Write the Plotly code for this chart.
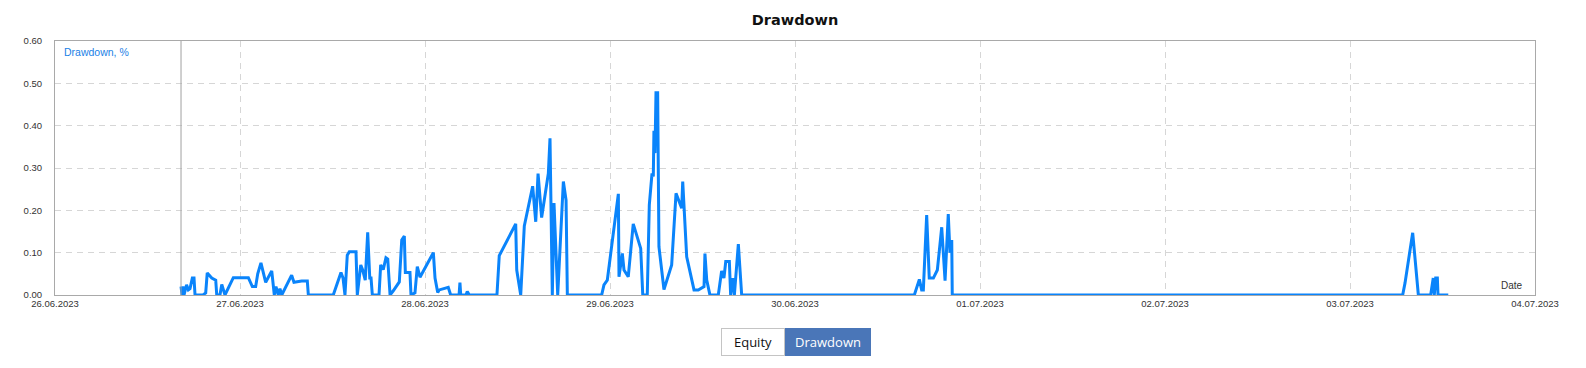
import pandas as pd
import plotly.graph_objects as go

# Drawdown series (timestamp, drawdown %)
dates = [
    "2023-06-26 16:21", "2023-06-26 16:29", "2023-06-26 16:36", "2023-06-26 16:44",
    "2023-06-26 17:04", "2023-06-26 17:18", "2023-06-26 17:31", "2023-06-26 17:49",
    "2023-06-26 18:02", "2023-06-26 18:10", "2023-06-26 19:12", "2023-06-26 19:33",
    "2023-06-26 19:45", "2023-06-26 20:20", "2023-06-26 20:51", "2023-06-26 20:59",
    "2023-06-26 21:24", "2023-06-26 21:38", "2023-06-26 22:03", "2023-06-26 23:08",
    "2023-06-27 01:05", "2023-06-27 01:36", "2023-06-27 02:02", "2023-06-27 02:18",
    "2023-06-27 02:43", "2023-06-27 03:20", "2023-06-27 04:07", "2023-06-27 04:27",
    "2023-06-27 04:40", "2023-06-27 04:58", "2023-06-27 05:11", "2023-06-27 05:25",
    "2023-06-27 06:42", "2023-06-27 07:00", "2023-06-27 08:00", "2023-06-27 08:44",
    "2023-06-27 08:52", "2023-06-27 12:06", "2023-06-27 13:06", "2023-06-27 13:22",
    "2023-06-27 13:37", "2023-06-27 13:55", "2023-06-27 14:11", "2023-06-27 15:03",
    "2023-06-27 15:13", "2023-06-27 15:40", "2023-06-27 15:55", "2023-06-27 16:15",
    "2023-06-27 16:34", "2023-06-27 16:50", "2023-06-27 17:00", "2023-06-27 17:10",
    "2023-06-27 18:02", "2023-06-27 18:15", "2023-06-27 18:35", "2023-06-27 18:56",
    "2023-06-27 19:10", "2023-06-27 19:28", "2023-06-27 19:53", "2023-06-27 20:40",
    "2023-06-27 20:59", "2023-06-27 21:19", "2023-06-27 21:27", "2023-06-27 22:03",
    "2023-06-27 22:11", "2023-06-27 22:42", "2023-06-27 23:00", "2023-06-27 23:21",
    "2023-06-28 01:05", "2023-06-28 01:18", "2023-06-28 01:39", "2023-06-28 01:51",
    "2023-06-28 03:01", "2023-06-28 03:20", "2023-06-28 04:25", "2023-06-28 04:32",
    "2023-06-28 04:38", "2023-06-28 05:19", "2023-06-28 05:29", "2023-06-28 05:45",
    "2023-06-28 09:20", "2023-06-28 09:38", "2023-06-28 11:46", "2023-06-28 11:54",
    "2023-06-28 12:25", "2023-06-28 12:53", "2023-06-28 13:58", "2023-06-28 14:22",
    "2023-06-28 14:40", "2023-06-28 15:08", "2023-06-28 16:00", "2023-06-28 16:13",
    "2023-06-28 16:31", "2023-06-28 16:44", "2023-06-28 17:13", "2023-06-28 17:57",
    "2023-06-28 18:18", "2023-06-28 18:28", "2023-06-28 22:55", "2023-06-28 23:13",
    "2023-06-28 23:39", "2023-06-29 01:05", "2023-06-29 01:10", "2023-06-29 01:36",
    "2023-06-29 01:49", "2023-06-29 02:22", "2023-06-29 03:01", "2023-06-29 03:59",
    "2023-06-29 04:15", "2023-06-29 04:50", "2023-06-29 05:06", "2023-06-29 05:27",
    "2023-06-29 05:37", "2023-06-29 05:42", "2023-06-29 05:50", "2023-06-29 05:58",
    "2023-06-29 06:11", "2023-06-29 06:16", "2023-06-29 06:21", "2023-06-29 07:00",
    "2023-06-29 08:00", "2023-06-29 08:34", "2023-06-29 09:18", "2023-06-29 09:26",
    "2023-06-29 09:57", "2023-06-29 10:54", "2023-06-29 11:27", "2023-06-29 12:12",
    "2023-06-29 12:19", "2023-06-29 12:33", "2023-06-29 12:58", "2023-06-29 14:03",
    "2023-06-29 14:29", "2023-06-29 14:47", "2023-06-29 15:01", "2023-06-29 15:29",
    "2023-06-29 15:39", "2023-06-29 15:55", "2023-06-29 16:08", "2023-06-29 16:39",
    "2023-06-29 17:05", "2023-06-30 15:29", "2023-06-30 16:08", "2023-06-30 16:26",
    "2023-06-30 16:39", "2023-06-30 17:05", "2023-06-30 17:25", "2023-06-30 17:57",
    "2023-06-30 18:28", "2023-06-30 19:02", "2023-06-30 19:14", "2023-06-30 19:28",
    "2023-06-30 19:53", "2023-06-30 20:06", "2023-06-30 20:20", "2023-06-30 20:24",
    "2023-07-03 06:50", "2023-07-03 07:08", "2023-07-03 08:08", "2023-07-03 08:52",
    "2023-07-03 10:28", "2023-07-03 10:36", "2023-07-03 10:48", "2023-07-03 10:56",
    "2023-07-03 11:07", "2023-07-03 11:20", "2023-07-03 11:25", "2023-07-03 12:45",
]

drawdown = [
    0.020, 0.000, 0.020, 0.000,
    0.024, 0.012, 0.015, 0.040,
    0.040, 0.000, 0.000, 0.005,
    0.052, 0.040, 0.035, 0.000,
    0.000, 0.025, 0.000, 0.041,
    0.041, 0.020, 0.020, 0.050,
    0.076, 0.030, 0.057, 0.000,
    0.020, 0.000, 0.015, 0.000,
    0.047, 0.030, 0.033, 0.033,
    0.000, 0.000, 0.053, 0.040,
    0.000, 0.094, 0.102, 0.102,
    0.000, 0.071, 0.059, 0.035,
    0.148, 0.040, 0.040, 0.000,
    0.000, 0.071, 0.060, 0.088,
    0.085, 0.000, 0.010, 0.031,
    0.130, 0.139, 0.053, 0.053,
    0.000, 0.005, 0.067, 0.042,
    0.100, 0.040, 0.006, 0.012,
    0.018, 0.000, 0.000, 0.029,
    0.000, 0.000, 0.008, 0.000,
    0.000, 0.093, 0.168, 0.059,
    0.000, 0.163, 0.257, 0.173,
    0.287, 0.183, 0.287, 0.370,
    0.000, 0.217, 0.000, 0.268,
    0.224, 0.000, 0.000, 0.024,
    0.035, 0.239, 0.043, 0.098,
    0.059, 0.043, 0.168, 0.110,
    0.000, 0.000, 0.213, 0.287,
    0.280, 0.388, 0.335, 0.478,
    0.478, 0.138, 0.114, 0.013,
    0.071, 0.240, 0.205, 0.268,
    0.090, 0.012, 0.012, 0.020,
    0.098, 0.035, 0.000, 0.000,
    0.057, 0.040, 0.079, 0.079,
    0.000, 0.040, 0.000, 0.120,
    0.000, 0.000, 0.037, 0.012,
    0.012, 0.189, 0.040, 0.040,
    0.059, 0.160, 0.090, 0.034,
    0.191, 0.100, 0.130, 0.000,
    0.000, 0.028, 0.147, 0.000,
    0.000, 0.020, 0.040, 0.000,
    0.040, 0.040, 0.000, 0.000,
]

x_range = ["2023-06-26", "2023-07-04"]
y_ticks = [0.0, 0.1, 0.2, 0.3, 0.4, 0.5, 0.6]
buttons = ["Equity", "Drawdown"]

x = pd.to_datetime(dates)

# page has an 8px body margin; size the figure so it fills the window exactly
OFF = 8
W, H = 1586 - OFF, 368 - OFF
PL, PR, PT, PB = 55, 1535, 41, 295          # plot box in page pixels
L, T = PL - OFF, PT - OFF
R, B = W - (PR - OFF), H - (PB - OFF)
PW, PH = PR - PL, PB - PT

def px_x(p):
    return (p - PL) / PW

def px_y(p):
    return (PB - p) / PH

fig = go.Figure()
fig.add_trace(go.Scatter(
    x=x, y=drawdown, mode="lines",
    line=dict(color="#0a84fb", width=3),
    hoverinfo="skip", showlegend=False,
))

# start marker line
fig.add_vline(x=x[0], line=dict(color="#a0a0a0", width=1))

grid = dict(showgrid=True, gridcolor="#d6d6d6", gridwidth=1, griddash="6px,5px")
fig.update_xaxes(
    type="date", range=x_range, dtick=86400000, tickformat="%d.%m.%Y",
    showline=True, linecolor="#a9a9a9", linewidth=1, mirror=True,
    ticks="", tickfont=dict(family="Liberation Sans", size=9.5, color="#333333"),
    zeroline=False, fixedrange=True, **grid,
)
fig.update_yaxes(
    range=[0, 0.6], tickvals=y_ticks, tickformat=".2f",
    showline=True, linecolor="#a9a9a9", linewidth=1, mirror=True,
    ticks="", ticklabelstandoff=10,
    tickfont=dict(family="Liberation Sans", size=9.5, color="#333333"),
    zeroline=False, fixedrange=True, **grid,
)

annotations = [
    dict(text="Drawdown, %", xref="paper", yref="paper", x=px_x(62), y=px_y(52),
         xanchor="left", yanchor="middle", showarrow=False,
         font=dict(family="Liberation Sans", size=10.5, color="#1a7fe6")),
    dict(text="Date", xref="paper", yref="paper", x=px_x(1525), y=px_y(285),
         xanchor="right", yanchor="middle", showarrow=False,
         font=dict(family="Liberation Sans", size=10, color="#333333")),
]

# toggle buttons under the chart (boxed annotations)
btn_specs = [
    (buttons[0], 721, 785, "#ffffff", "#111111", "#c4c4c4"),
    (buttons[1], 785, 871, "#4a76b8", "#ffffff", "#4a76b8"),
]
for label, x0, x1, bg, fg, bd in btn_specs:
    annotations.append(dict(text=label, xref="paper", yref="paper",
                            x=px_x((x0 + x1) / 2), y=px_y(342),
                            xanchor="center", yanchor="middle", showarrow=False,
                            width=x1 - x0 - 2, height=26, align="center", valign="middle",
                            bgcolor=bg, bordercolor=bd, borderwidth=1, borderpad=0,
                            font=dict(family="Open Sans", size=13, color=fg)))

fig.update_layout(
    width=W, height=H,
    margin=dict(l=L, r=R, t=T, b=B, autoexpand=False),
    paper_bgcolor="white", plot_bgcolor="white",
    title=dict(text="<b>Drawdown</b>", x=0.5, xref="paper", xanchor="center",
               y=1 - (20 - OFF) / H, yanchor="middle",
               font=dict(family="DejaVu Sans", size=14.5, color="#111111")),
    annotations=annotations,
)

fig.write_html("out.html")
